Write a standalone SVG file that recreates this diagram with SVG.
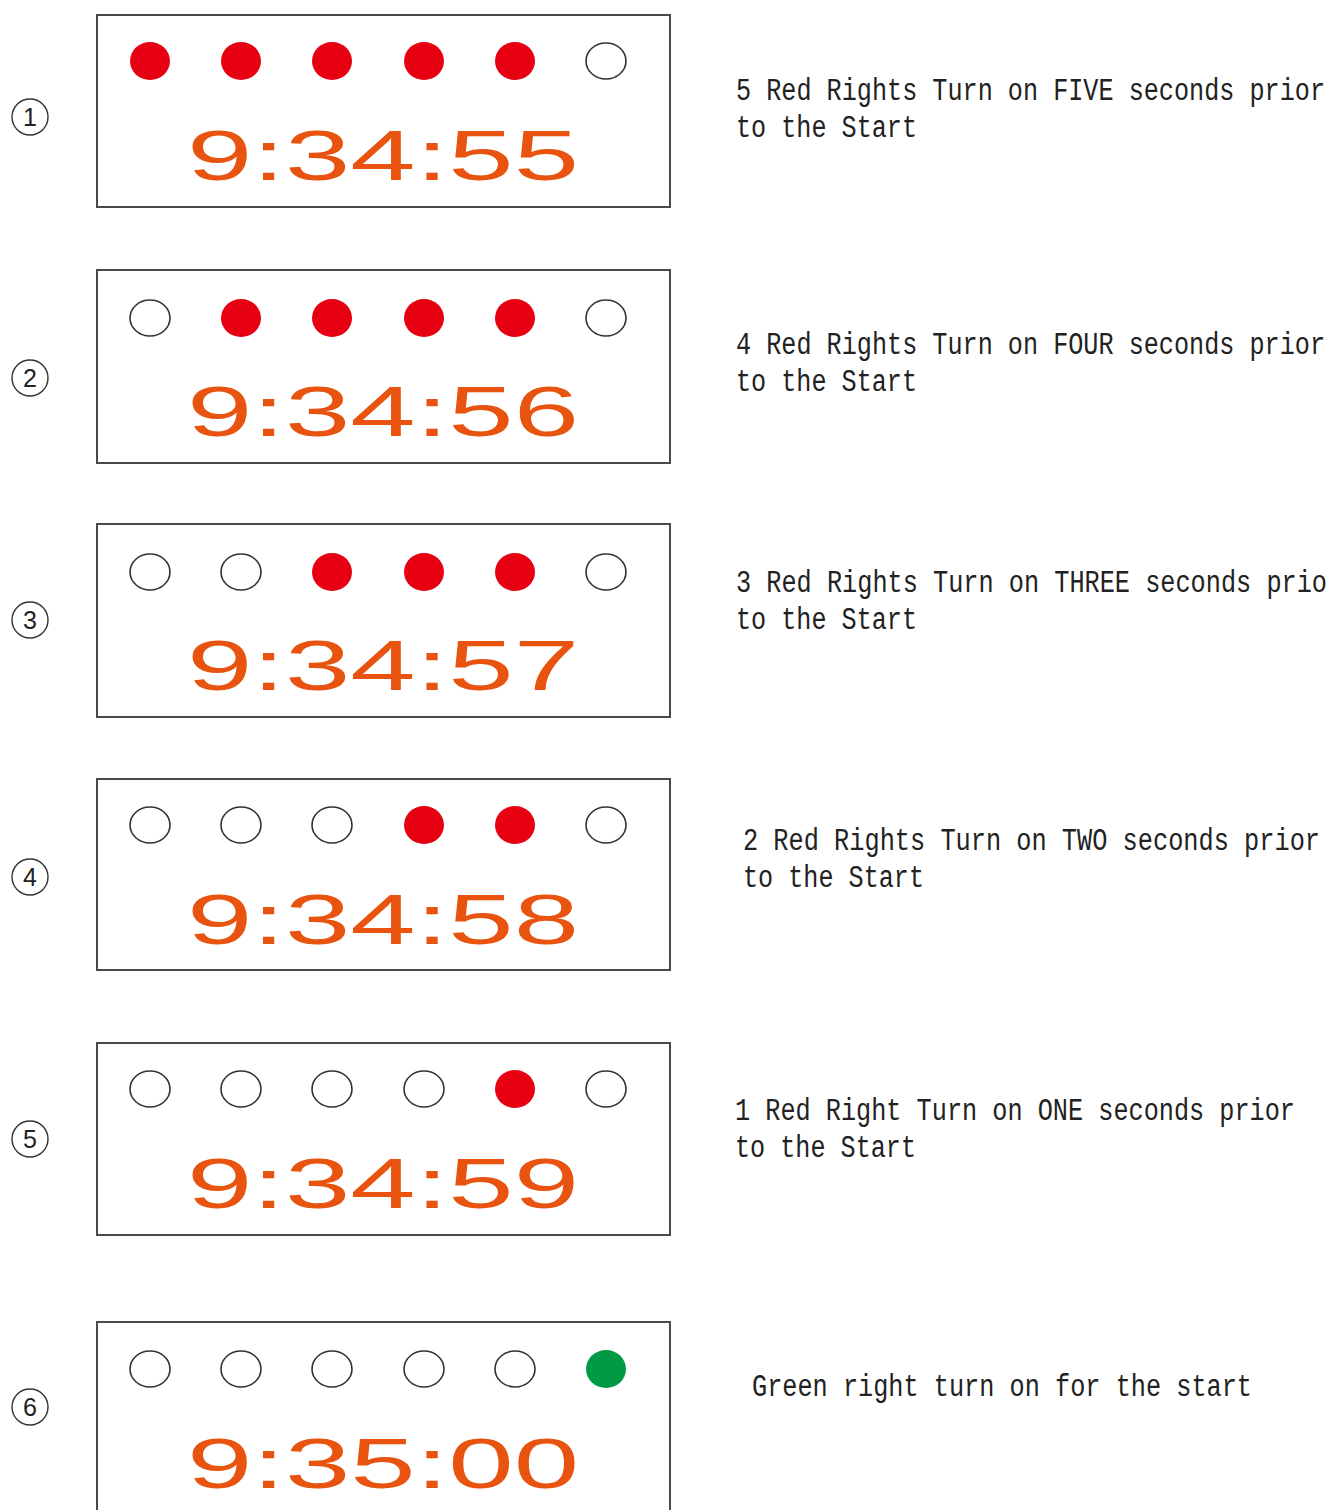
<svg xmlns="http://www.w3.org/2000/svg" width="1333" height="1510" viewBox="0 0 1333 1510">
<style>
.box{fill:#fff;stroke:#4a4a4a;stroke-width:2}
.on{fill:#e60012}
.off{fill:#fff;stroke:#333;stroke-width:1.6}
.go{fill:#009a44}
.clock{font-family:"Liberation Sans",Arial,sans-serif;font-size:70px;fill:#e8540f}
.desc{font-family:"Liberation Mono","DejaVu Sans Mono",monospace;font-size:31px;fill:#222}
.num{fill:#fff;stroke:#333;stroke-width:1.4}
.numt{font-family:"Liberation Sans",Arial,sans-serif;font-size:25px;fill:#222;text-anchor:middle}
</style>
<rect width="1333" height="1510" fill="#fff"/>
<g id="step1">
<circle class="num" cx="30" cy="117" r="18"/><text class="numt" x="30" y="126">1</text>
<rect class="box" x="97" y="15" width="573" height="192"/>
<ellipse class="on" cx="150" cy="61" rx="20" ry="19"/><ellipse class="on" cx="241" cy="61" rx="20" ry="19"/><ellipse class="on" cx="332" cy="61" rx="20" ry="19"/><ellipse class="on" cx="424" cy="61" rx="20" ry="19"/><ellipse class="on" cx="515" cy="61" rx="20" ry="19"/><ellipse class="off" cx="606" cy="61" rx="20" ry="18"/>
<text class="clock" x="187" y="180" textLength="392" lengthAdjust="spacingAndGlyphs">9:34:55</text>
<text class="desc" x="736" y="100" textLength="589" lengthAdjust="spacingAndGlyphs">5 Red Rights Turn on FIVE seconds prior</text>
<text class="desc" x="736" y="137" textLength="181" lengthAdjust="spacingAndGlyphs">to the Start</text>
</g>
<g id="step2">
<circle class="num" cx="30" cy="378" r="18"/><text class="numt" x="30" y="387">2</text>
<rect class="box" x="97" y="270" width="573" height="193"/>
<ellipse class="off" cx="150" cy="318" rx="20" ry="18"/><ellipse class="on" cx="241" cy="318" rx="20" ry="19"/><ellipse class="on" cx="332" cy="318" rx="20" ry="19"/><ellipse class="on" cx="424" cy="318" rx="20" ry="19"/><ellipse class="on" cx="515" cy="318" rx="20" ry="19"/><ellipse class="off" cx="606" cy="318" rx="20" ry="18"/>
<text class="clock" x="187" y="436" textLength="392" lengthAdjust="spacingAndGlyphs">9:34:56</text>
<text class="desc" x="736" y="354" textLength="589" lengthAdjust="spacingAndGlyphs">4 Red Rights Turn on FOUR seconds prior</text>
<text class="desc" x="736" y="391" textLength="181" lengthAdjust="spacingAndGlyphs">to the Start</text>
</g>
<g id="step3">
<circle class="num" cx="30" cy="620" r="18"/><text class="numt" x="30" y="629">3</text>
<rect class="box" x="97" y="524" width="573" height="193"/>
<ellipse class="off" cx="150" cy="572" rx="20" ry="18"/><ellipse class="off" cx="241" cy="572" rx="20" ry="18"/><ellipse class="on" cx="332" cy="572" rx="20" ry="19"/><ellipse class="on" cx="424" cy="572" rx="20" ry="19"/><ellipse class="on" cx="515" cy="572" rx="20" ry="19"/><ellipse class="off" cx="606" cy="572" rx="20" ry="18"/>
<text class="clock" x="187" y="690" textLength="392" lengthAdjust="spacingAndGlyphs">9:34:57</text>
<text class="desc" x="736" y="592" textLength="591" lengthAdjust="spacingAndGlyphs">3 Red Rights Turn on THREE seconds prio</text>
<text class="desc" x="736" y="629" textLength="181" lengthAdjust="spacingAndGlyphs">to the Start</text>
</g>
<g id="step4">
<circle class="num" cx="30" cy="877" r="18"/><text class="numt" x="30" y="886">4</text>
<rect class="box" x="97" y="779" width="573" height="191"/>
<ellipse class="off" cx="150" cy="825" rx="20" ry="18"/><ellipse class="off" cx="241" cy="825" rx="20" ry="18"/><ellipse class="off" cx="332" cy="825" rx="20" ry="18"/><ellipse class="on" cx="424" cy="825" rx="20" ry="19"/><ellipse class="on" cx="515" cy="825" rx="20" ry="19"/><ellipse class="off" cx="606" cy="825" rx="20" ry="18"/>
<text class="clock" x="187" y="944" textLength="392" lengthAdjust="spacingAndGlyphs">9:34:58</text>
<text class="desc" x="743" y="850" textLength="577" lengthAdjust="spacingAndGlyphs">2 Red Rights Turn on TWO seconds prior</text>
<text class="desc" x="743" y="887" textLength="181" lengthAdjust="spacingAndGlyphs">to the Start</text>
</g>
<g id="step5">
<circle class="num" cx="30" cy="1139" r="18"/><text class="numt" x="30" y="1148">5</text>
<rect class="box" x="97" y="1043" width="573" height="192"/>
<ellipse class="off" cx="150" cy="1089" rx="20" ry="18"/><ellipse class="off" cx="241" cy="1089" rx="20" ry="18"/><ellipse class="off" cx="332" cy="1089" rx="20" ry="18"/><ellipse class="off" cx="424" cy="1089" rx="20" ry="18"/><ellipse class="on" cx="515" cy="1089" rx="20" ry="19"/><ellipse class="off" cx="606" cy="1089" rx="20" ry="18"/>
<text class="clock" x="187" y="1208" textLength="392" lengthAdjust="spacingAndGlyphs">9:34:59</text>
<text class="desc" x="735" y="1120" textLength="560" lengthAdjust="spacingAndGlyphs">1 Red Right Turn on ONE seconds prior</text>
<text class="desc" x="735" y="1157" textLength="181" lengthAdjust="spacingAndGlyphs">to the Start</text>
</g>
<g id="step6">
<circle class="num" cx="30" cy="1407" r="18"/><text class="numt" x="30" y="1416">6</text>
<rect class="box" x="97" y="1322" width="573" height="200"/>
<ellipse class="off" cx="150" cy="1369" rx="20" ry="18"/><ellipse class="off" cx="241" cy="1369" rx="20" ry="18"/><ellipse class="off" cx="332" cy="1369" rx="20" ry="18"/><ellipse class="off" cx="424" cy="1369" rx="20" ry="18"/><ellipse class="off" cx="515" cy="1369" rx="20" ry="18"/><ellipse class="go" cx="606" cy="1369" rx="20" ry="19"/>
<text class="clock" x="187" y="1488" textLength="392" lengthAdjust="spacingAndGlyphs">9:35:00</text>
<text class="desc" x="752" y="1396" textLength="500" lengthAdjust="spacingAndGlyphs">Green right turn on for the start</text>
</g>
<g id="connectors"/>
</svg>
